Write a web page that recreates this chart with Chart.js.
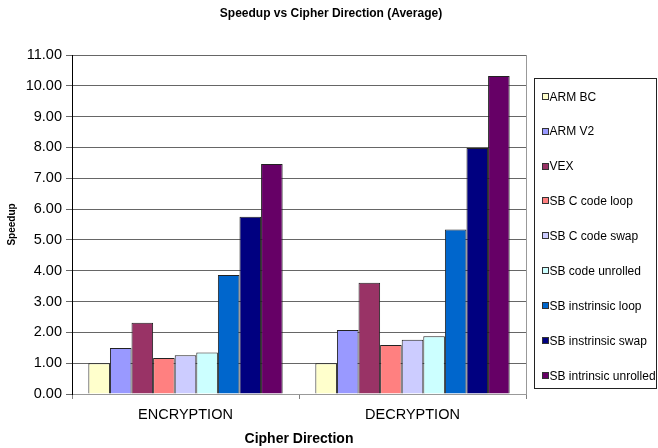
<!DOCTYPE html>
<html>
<head>
<meta charset="utf-8">
<script src="https://cdn.jsdelivr.net/npm/chart.js@4/dist/chart.umd.min.js"></script>
<style>
html,body{margin:0;padding:0;background:#fff;}
#wrap{width:658px;height:448px;position:relative;}
</style>
</head>
<body>
<div id="wrap"><canvas id="c" width="658" height="448"></canvas></div>
<script>
const categories = ["ENCRYPTION", "DECRYPTION"];
const seriesNames = ["ARM BC", "ARM V2", "VEX", "SB C code loop", "SB C code swap", "SB code unrolled", "SB instrinsic loop", "SB instrinsic swap", "SB intrinsic unrolled"];
const armBC = [1.00, 1.00];
const armV2 = [1.49, 2.08];
const vex = [2.31, 3.61];
const sbCLoop = [1.17, 1.59];
const sbCSwap = [1.26, 1.76];
const sbCodeUnrolled = [1.35, 1.87];
const sbInstrLoop = [3.86, 5.34];
const sbInstrSwap = [5.75, 7.98];
const sbIntrUnrolled = [7.46, 10.32];
const seriesValues = [armBC, armV2, vex, sbCLoop, sbCSwap, sbCodeUnrolled, sbInstrLoop, sbInstrSwap, sbIntrUnrolled];
const colors = ["#FFFFCC", "#9999FF", "#993366", "#FF8080", "#CCCCFF", "#CCFFFF", "#0066CC", "#000080", "#660066"];
const yTicks = [0,1,2,3,4,5,6,7,8,9,10,11];
const chartTitle = 'Speedup vs Cipher Direction (Average)';

const FONT = "'Liberation Sans', Arial, sans-serif";

const legendPlugin = {
  id: 'boxLegend',
  afterDraw(chart) {
    const ctx = chart.ctx;
    const ca = chart.chartArea;
    ctx.save();
    // chart title, centred on the whole chart
    ctx.font = "bold 12px " + FONT;
    ctx.fillStyle = '#000';
    ctx.textAlign = 'center';
    ctx.textBaseline = 'middle';
    ctx.fillText(chartTitle, 331, 13.5);
    // right border of plot area
    ctx.strokeStyle = '#999999';
    ctx.lineWidth = 1;
    ctx.beginPath();
    ctx.moveTo(Math.round(ca.right) + 0.5, ca.top);
    ctx.lineTo(Math.round(ca.right) + 0.5, ca.bottom);
    ctx.stroke();
    // legend box
    const bx = 534.5, by = 78.5, bw = 122, bh = 310;
    ctx.strokeStyle = '#222222';
    ctx.strokeRect(bx, by, bw, bh);
    ctx.font = "12px " + FONT;
    ctx.textBaseline = 'middle';
    ctx.textAlign = 'left';
    chart.data.datasets.forEach((ds, i) => {
      const cy = 96.7 + i * 34.9;
      ctx.fillStyle = ds.backgroundColor;
      ctx.fillRect(542.5, Math.round(cy) - 3.5, 6, 6);
      ctx.strokeStyle = '#333333';
      ctx.strokeRect(542.5, Math.round(cy) - 3.5, 6, 6);
      ctx.fillStyle = '#000000';
      ctx.fillText(ds.label, 549.5, cy + 0.5);
    });
    ctx.restore();
  }
};

new Chart(document.getElementById('c'), {
  type: 'bar',
  data: {
    labels: categories,
    datasets: seriesNames.map((name, i) => ({
      label: name,
      data: seriesValues[i],
      backgroundColor: colors[i],
      borderColor: '#222222',
      borderWidth: 1,
      barPercentage: 1.0,
      categoryPercentage: 0.856
    }))
  },
  options: {
    responsive: false,
    animation: false,
    devicePixelRatio: 1,
    layout: { padding: { left: 0, right: 132, top: 55, bottom: 0 } },
    plugins: {
      legend: { display: false },
      tooltip: { enabled: false },
      title: { display: false }
    },
    scales: {
      x: {
        afterFit(scale) { scale.height = 54; },
        grid: { drawOnChartArea: false, drawTicks: true, tickLength: 5, color: '#808080' },
        border: { color: '#999999', width: 1 },
        ticks: { color: '#000', font: { family: FONT, size: 14.5 }, padding: 7 },
        title: { display: true, text: 'Cipher Direction', color: '#000', font: { family: FONT, size: 14, weight: 'bold' }, padding: { top: 0, bottom: 0.6 } }
      },
      y: {
        min: 0, max: 11,
        afterFit(scale) { scale.width = 72; },
        afterBuildTicks(scale) { scale.ticks = yTicks.map(v => ({ value: v })); },
        grid: { color: '#666666', tickLength: 6, drawTicks: true },
        border: { color: '#000', width: 1 },
        ticks: {
          color: '#000',
          font: { family: FONT, size: 14.5 },
          padding: 4,
          callback: (v) => Number(v).toFixed(2)
        },
        title: { display: true, text: 'Speedup', color: '#000', font: { family: FONT, size: 10, weight: 'bold' }, padding: { top: 6.5, bottom: 0 } }
      }
    }
  },
  plugins: [legendPlugin]
});
</script>
</body>
</html>
